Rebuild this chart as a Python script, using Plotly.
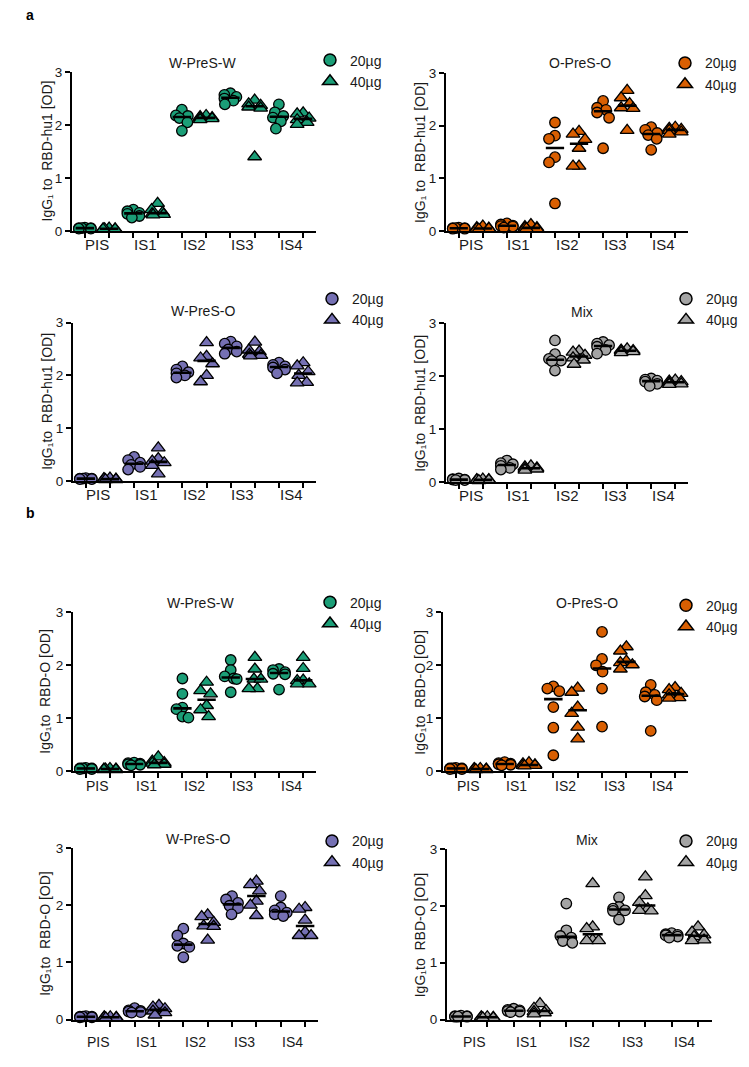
import numpy as np
import plotly.graph_objects as go

W, H = 749, 1067

categories = ["PIS", "IS1", "IS2", "IS3", "IS4"]
doses = ["20µg", "40µg"]

# ---- a: IgG1 to RBD-hu1 [OD] ----
hu1_WW_20 = [[0.06, 0.05, 0.05, 0.05, 0.04, 0.04],
             [0.40, 0.37, 0.34, 0.32, 0.28, 0.25],
             [2.29, 2.18, 2.17, 2.13, 2.05, 1.89],
             [2.60, 2.57, 2.53, 2.50, 2.46, 2.39],
             [2.39, 2.24, 2.17, 2.14, 2.07, 1.93]]
hu1_WW_40 = [[0.05, 0.04, 0.04, 0.04, 0.03, 0.03],
             [0.52, 0.40, 0.35, 0.32, 0.31, 0.30],
             [2.18, 2.16, 2.14, 2.13, 2.12, 2.10],
             [2.47, 2.40, 2.37, 2.34, 2.32, 1.40],
             [2.23, 2.21, 2.13, 2.10, 2.05, 2.01]]
hu1_OO_20 = [[0.06, 0.05, 0.05, 0.05, 0.04, 0.04],
             [0.14, 0.12, 0.10, 0.09, 0.08, 0.06],
             [2.06, 1.81, 1.75, 1.40, 1.30, 0.52],
             [2.47, 2.34, 2.30, 2.25, 2.15, 1.57],
             [1.97, 1.92, 1.86, 1.82, 1.75, 1.54]]
hu1_OO_40 = [[0.09, 0.06, 0.05, 0.04, 0.04, 0.03],
             [0.12, 0.08, 0.06, 0.05, 0.04, 0.04],
             [1.89, 1.84, 1.74, 1.57, 1.23, 1.23],
             [2.67, 2.53, 2.42, 2.34, 2.33, 1.91],
             [1.97, 1.95, 1.93, 1.91, 1.88, 1.84]]
hu1_WO_20 = [[0.06, 0.05, 0.05, 0.05, 0.04, 0.04],
             [0.46, 0.40, 0.35, 0.31, 0.27, 0.22],
             [2.17, 2.11, 2.06, 2.04, 2.00, 1.96],
             [2.64, 2.60, 2.55, 2.49, 2.45, 2.41],
             [2.24, 2.20, 2.17, 2.15, 2.11, 2.04]]
hu1_WO_40 = [[0.06, 0.05, 0.04, 0.04, 0.03, 0.03],
             [0.63, 0.43, 0.38, 0.35, 0.30, 0.14],
             [2.62, 2.36, 2.33, 2.22, 2.00, 1.88],
             [2.63, 2.48, 2.45, 2.40, 2.38, 2.37],
             [2.24, 2.18, 2.07, 2.00, 1.87, 1.86]]
hu1_Mix_20 = [[0.07, 0.06, 0.05, 0.05, 0.04, 0.04],
              [0.41, 0.36, 0.34, 0.31, 0.27, 0.24],
              [2.68, 2.42, 2.33, 2.30, 2.29, 2.11],
              [2.65, 2.62, 2.59, 2.56, 2.50, 2.43],
              [1.96, 1.94, 1.92, 1.90, 1.86, 1.82]]
hu1_Mix_40 = [[0.06, 0.05, 0.05, 0.04, 0.04, 0.03],
              [0.31, 0.29, 0.27, 0.26, 0.25, 0.23],
              [2.48, 2.46, 2.40, 2.35, 2.31, 2.23],
              [2.52, 2.50, 2.49, 2.48, 2.47, 2.45],
              [1.93, 1.91, 1.90, 1.88, 1.86, 1.85]]

# ---- b: IgG1 to RBD-O [OD] ----
O_WW_20 = [[0.06, 0.05, 0.05, 0.05, 0.04, 0.04],
           [0.16, 0.15, 0.14, 0.13, 0.12, 0.11],
           [1.75, 1.46, 1.20, 1.17, 1.03, 1.01],
           [2.10, 1.91, 1.79, 1.75, 1.74, 1.49],
           [1.93, 1.91, 1.87, 1.84, 1.83, 1.54]]
O_WW_40 = [[0.05, 0.04, 0.04, 0.04, 0.03, 0.03],
           [0.27, 0.19, 0.16, 0.15, 0.13, 0.12],
           [1.68, 1.52, 1.46, 1.24, 1.16, 1.03],
           [2.15, 1.93, 1.74, 1.74, 1.56, 1.56],
           [2.15, 1.94, 1.72, 1.71, 1.65, 1.65]]
O_OO_20 = [[0.06, 0.05, 0.05, 0.05, 0.04, 0.04],
           [0.17, 0.15, 0.14, 0.13, 0.12, 0.11],
           [1.60, 1.56, 1.51, 1.21, 0.82, 0.30],
           [2.63, 2.12, 2.00, 1.88, 1.56, 0.84],
           [1.63, 1.49, 1.44, 1.41, 1.34, 0.76]]
O_OO_40 = [[0.05, 0.05, 0.04, 0.04, 0.03, 0.03],
           [0.16, 0.14, 0.12, 0.11, 0.11, 0.10],
           [1.57, 1.49, 1.21, 1.09, 0.83, 0.61],
           [2.35, 2.27, 2.08, 2.05, 2.01, 1.93],
           [1.58, 1.54, 1.47, 1.44, 1.39, 1.38]]
O_WO_20 = [[0.06, 0.05, 0.05, 0.05, 0.04, 0.04],
           [0.20, 0.16, 0.15, 0.14, 0.13, 0.12],
           [1.59, 1.47, 1.33, 1.29, 1.27, 1.09],
           [2.16, 2.10, 2.04, 1.99, 1.95, 1.84],
           [2.16, 1.96, 1.91, 1.87, 1.84, 1.81]]
O_WO_40 = [[0.05, 0.05, 0.04, 0.04, 0.03, 0.03],
           [0.25, 0.22, 0.19, 0.15, 0.12, 0.08],
           [1.83, 1.80, 1.70, 1.64, 1.63, 1.39],
           [2.42, 2.36, 2.25, 2.07, 2.00, 1.82],
           [1.96, 1.93, 1.74, 1.53, 1.47, 1.47]]
O_Mix_20 = [[0.07, 0.06, 0.06, 0.05, 0.05, 0.05],
            [0.19, 0.17, 0.16, 0.15, 0.14, 0.13],
            [2.04, 1.57, 1.47, 1.44, 1.38, 1.35],
            [2.15, 1.98, 1.95, 1.92, 1.91, 1.76],
            [1.52, 1.50, 1.49, 1.48, 1.46, 1.44]]
O_Mix_40 = [[0.05, 0.05, 0.04, 0.04, 0.03, 0.03],
            [0.28, 0.20, 0.16, 0.14, 0.12, 0.10],
            [2.39, 1.63, 1.60, 1.40, 1.39, 1.39],
            [2.51, 2.18, 2.06, 1.95, 1.92, 1.91],
            [1.63, 1.54, 1.49, 1.46, 1.40, 1.39]]

GREEN, ORANGE, PURPLE, GREY = "#1b9e77", "#d95f02", "#7570b3", "#a4a4a4"
FONT = "Arial, 'Liberation Sans', sans-serif"
TXT = "#1a1a1a"
NB = "\u00a0"

YT_A1 = "IgG\u2081 to" + NB + " RBD-hu1 [OD]"
YT_A2 = "IgG\u2081to" + NB + " RBD-hu1 [OD]"
YT_B = "IgG\u2081to" + NB + " RBD-O [OD]"

# layout in pixels: plot box (x0,x1,ytop,ybottom), title pos, y-title x, label y, legend pos
panels = [
    dict(d=(hu1_WW_20, hu1_WW_40), c=GREEN, t="W-PreS-W", box=(72, 316, 66, 227), tp=(203, 57), yt=YT_A1, ytx=47, ly=241, lg=(310, 38), fs=15),
    dict(d=(hu1_OO_20, hu1_OO_40), c=ORANGE, t="O-PreS-O", box=(446, 688, 67, 227), tp=(580, 57), yt=YT_A1, ytx=420, ly=241, lg=(665, 41), fs=15),
    dict(d=(hu1_WO_20, hu1_WO_40), c=PURPLE, t="W-PreS-O", box=(73, 316, 320, 481), tp=(203, 308), yt=YT_A2, ytx=47, ly=494, lg=(312, 280), fs=15),
    dict(d=(hu1_Mix_20, hu1_Mix_40), c=GREY, t="Mix", box=(446, 688, 321, 482), tp=(582, 309), yt=YT_A2, ytx=420, ly=495, lg=(666, 280), fs=15),
    dict(d=(O_WW_20, O_WW_40), c=GREEN, t="W-PreS-W", box=(73, 316, 614, 775), tp=(200, 605), yt=YT_B, ytx=45, ly=790, lg=(310, 588), fs=14),
    dict(d=(O_OO_20, O_OO_40), c=ORANGE, t="O-PreS-O", box=(443, 688, 614, 775), tp=(587, 605), yt=YT_B, ytx=420, ly=790, lg=(666, 591), fs=14),
    dict(d=(O_WO_20, O_WO_40), c=PURPLE, t="W-PreS-O", box=(73, 318, 853, 1027), tp=(198, 844), yt=YT_B, ytx=45, ly=1050, lg=(312, 830), fs=14),
    dict(d=(O_Mix_20, O_Mix_40), c=GREY, t="Mix", box=(447, 712, 854, 1027), tp=(587, 845), yt=YT_B, ytx=420, ly=1050, lg=(666, 830), fs=14),
]

XR = [-0.53, 9.53]


def swarm(vals, ppu_y, ppu_x, diam=9.5, maxoff=6.0):
    order = sorted(range(len(vals)), key=lambda k: -vals[k])
    placed, offs = [], [0.0] * len(vals)
    cands = np.arange(-maxoff, maxoff + 0.01, 0.5)
    for k in order:
        y = vals[k] * ppu_y
        best, bs = 0.0, None
        for s in cands:
            pen = sum(max(0.0, diam * 0.9 - np.hypot(s - px, y - py)) for px, py in placed)
            sc = pen * 10 + abs(s) * 0.3
            if bs is None or sc < bs - 1e-9:
                bs, best = sc, s
        placed.append((best, y))
        offs[k] = best / ppu_x
    return offs


fig = go.Figure()
annotations = []
layout_axes = {}

for i, p in enumerate(panels, start=1):
    x0, x1, yt0, yb0 = p["box"]
    xa = "x" if i == 1 else f"x{i}"
    ya = "y" if i == 1 else f"y{i}"
    lgname = "legend" if i == 1 else f"legend{i}"
    ppu_y = (yb0 - yt0) / 3.0
    ppu_x = (x1 - x0) / (XR[1] - XR[0])
    symbols = ["circle", "triangle-up"]
    msizes = [10.5, 12]
    med_x, med_y = [[], []], [[], []]
    for di in range(2):
        xs, ys = [], []
        for ci, vals in enumerate(p["d"][di]):
            center = 2 * ci + di
            offs = swarm(vals, ppu_y, ppu_x, diam=msizes[di] * 0.95)
            xs += [center + o for o in offs]
            ys += list(vals)
            m = float(np.median(vals))
            med_x[di] += [center - 0.38, center + 0.38, None]
            med_y[di] += [m, m, None]
        fig.add_trace(go.Scatter(
            x=xs, y=ys, xaxis=xa, yaxis=ya, mode="markers", showlegend=False,
            cliponaxis=False,
            marker=dict(symbol=symbols[di], size=msizes[di], color=p["c"],
                        line=dict(color="black", width=1.3)),
            hoverinfo="skip"))
    for di in range(2):
        fig.add_trace(go.Scatter(
            x=med_x[di], y=med_y[di], xaxis=xa, yaxis=ya, mode="lines",
            showlegend=False, cliponaxis=False,
            line=dict(color="black", width=2.6), hoverinfo="skip"))
    # legend entries
    for di in range(2):
        fig.add_trace(go.Scatter(
            x=[None], y=[None], xaxis=xa, yaxis=ya, mode="markers", name=doses[di],
            legend=lgname, showlegend=True,
            marker=dict(symbol=symbols[di], size=[12, 13][di], color=p["c"],
                        line=dict(color="black", width=1.5))))
    lx, ly = p["lg"]
    layout_axes[lgname] = dict(x=lx / W, y=1 - ly / H, xanchor="left", yanchor="top",
                               bgcolor="rgba(0,0,0,0)", font=dict(family=FONT, size=14, color=TXT),
                               tracegroupgap=0, itemsizing="trace")
    xkey = "xaxis" if i == 1 else f"xaxis{i}"
    ykey = "yaxis" if i == 1 else f"yaxis{i}"
    layout_axes[xkey] = dict(
        domain=[x0 / W, x1 / W], range=XR, anchor=ya, showgrid=False, zeroline=False,
        showline=True, linecolor="black", linewidth=2, ticks="outside", ticklen=5,
        tickwidth=1.6, tickcolor="black", tickvals=list(range(10)), showticklabels=False,
        fixedrange=True)
    layout_axes[ykey] = dict(
        domain=[1 - yb0 / H, 1 - yt0 / H], range=[0, 3], anchor=xa, showgrid=False,
        zeroline=False, showline=True, linecolor="black", linewidth=2, ticks="outside",
        ticklen=5, tickwidth=1.6, tickcolor="black", tickvals=[0, 1, 2, 3],
        tickfont=dict(family=FONT, size=13.5, color=TXT), fixedrange=True)
    # title
    annotations.append(dict(text=p["t"], x=p["tp"][0] / W, y=1 - p["tp"][1] / H, xref="paper",
                             yref="paper", showarrow=False, xanchor="center", yanchor="middle",
                             font=dict(family=FONT, size=14, color=TXT)))
    # y title
    annotations.append(dict(text=p["yt"], x=p["ytx"] / W, y=1 - (yt0 + yb0) / 2 / H, xref="paper",
                             yref="paper", showarrow=False, xanchor="center", yanchor="middle",
                             textangle=-90, font=dict(family=FONT, size=14, color=TXT)))
    # category labels
    for ci, cat in enumerate(categories):
        annotations.append(dict(text=cat, x=2 * ci + 0.5, y=1 - p["ly"] / H, xref=xa,
                                 yref="paper", showarrow=False, xanchor="center", yanchor="middle",
                                 font=dict(family=FONT, size=p["fs"], color=TXT)))

annotations.append(dict(text="<b>a</b>", x=30 / W, y=1 - 8 / H, xref="paper", yref="paper",
                        showarrow=False, xanchor="center", yanchor="middle",
                        font=dict(family=FONT, size=14, color="black")))
annotations.append(dict(text="<b>b</b>", x=30 / W, y=1 - 513 / H, xref="paper", yref="paper",
                        showarrow=False, xanchor="center", yanchor="middle",
                        font=dict(family=FONT, size=14, color="black")))

fig.update_layout(width=W, height=H, autosize=False, margin=dict(l=0, r=0, t=0, b=0),
                  paper_bgcolor="white", plot_bgcolor="white", annotations=annotations,
                  font=dict(family=FONT, color=TXT), **layout_axes)

post = ("var d=document.getElementById('{plot_id}');"
        "d.style.position='fixed';d.style.top='0px';d.style.left='0px';"
        "document.documentElement.style.margin='0';document.documentElement.style.padding='0';"
        "document.body.style.margin='0';document.body.style.padding='0';"
        "document.documentElement.style.overflow='hidden';document.body.style.overflow='hidden';")

fig.write_html("out.html", config={"displayModeBar": False}, post_script=post)
